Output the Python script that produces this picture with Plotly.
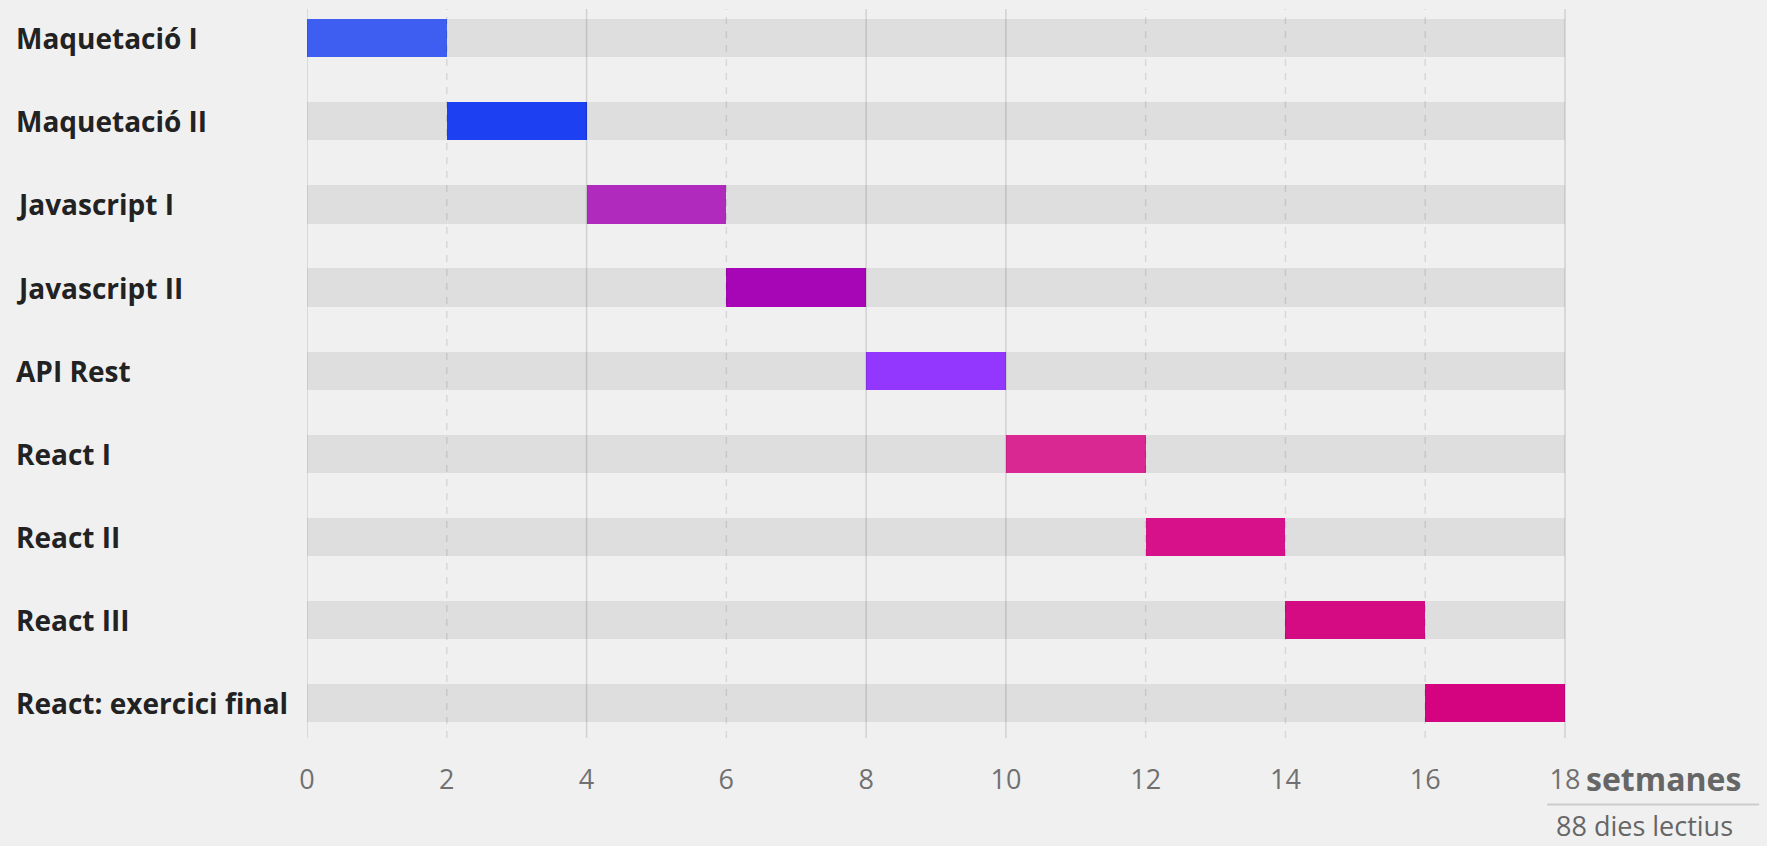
import plotly.graph_objects as go

modules = ["Maquetació I", "Maquetació II", "Javascript I", "Javascript II", "API Rest",
           "React I", "React II", "React III", "React: exercici final"]
starts = [0, 2, 4, 6, 8, 10, 12, 14, 16]
durations = [2, 2, 2, 2, 2, 2, 2, 2, 2]
total_weeks = 18
colors = ["#3d5ef0", "#1c40f2", "#b02abe", "#a606b5", "#9437fe",
          "#d92891", "#d6118a", "#d40b82", "#d4037f"]
tick_vals = [0, 2, 4, 6, 8, 10, 12, 14, 16, 18]
solid_grid = [0, 4, 8, 10, 18]
dashed_grid = [2, 6, 12, 14, 16]
unit_label = "setmanes"
days_label = "88 dies lectius"

W, H = 1767, 846
ML, MT = 306.6, 9
unit_px = 69.9
x_max = 18.1
plot_w = unit_px * x_max
MR = W - ML - plot_w
plot_bottom = 738.4
MB = H - plot_bottom
plot_h = H - MT - MB


def py(y):
    return (plot_bottom - y) / plot_h


def px(x):
    return (x - ML) / plot_w


fig = go.Figure()
fig.add_trace(go.Bar(
    y=modules, x=[total_weeks] * len(modules), base=[0] * len(modules),
    orientation="h", marker=dict(color="#dedede", line=dict(width=0)),
    width=0.46, hoverinfo="skip", showlegend=False))
fig.add_trace(go.Bar(
    y=modules, x=durations, base=starts, orientation="h",
    marker=dict(color=colors, line=dict(width=0)),
    width=0.46, showlegend=False))

shapes = []
for v in solid_grid:
    shapes.append(dict(type="line", xref="x", yref="paper", x0=v, x1=v, y0=0, y1=1,
                       line=dict(color="rgba(0,0,0,0.13)", width=1.5), layer="above"))
for v in dashed_grid:
    shapes.append(dict(type="line", xref="x", yref="paper", x0=v, x1=v, y0=0, y1=1,
                       line=dict(color="rgba(0,0,0,0.10)", width=1.5, dash="7px,7px"),
                       layer="above"))
shapes.append(dict(type="line", xref="paper", yref="paper",
                   x0=px(1547), x1=px(1759), y0=py(805), y1=py(805),
                   line=dict(color="#cccccc", width=2)))

annotations = []
for m in modules:
    annotations.append(dict(x=0, xref="paper", xshift=-(ML - 14), xanchor="left",
                            y=m, yref="y", text=f"<b>{m}</b>", showarrow=False,
                            font=dict(family="Open Sans", size=28, color="#222222")))
annotations.append(dict(x=18, xref="x", xshift=19, xanchor="left",
                        y=py(779), yref="paper", yanchor="middle",
                        text=f"<b>{unit_label}</b>", showarrow=False,
                        font=dict(family="Open Sans", size=32, color="#666666")))
annotations.append(dict(x=px(1644), xref="paper", xanchor="center",
                        y=py(826), yref="paper", yanchor="middle",
                        text=days_label, showarrow=False,
                        font=dict(family="Open Sans", size=27, color="#666666")))

fig.update_layout(
    width=W, height=H,
    margin=dict(l=ML, r=MR, t=MT, b=MB),
    paper_bgcolor="#f0f0f0", plot_bgcolor="#f0f0f0",
    barmode="overlay", bargap=0,
    xaxis=dict(range=[0, x_max], tickvals=tick_vals, ticktext=[str(v) for v in tick_vals],
               showgrid=False, zeroline=False, showline=False,
               tickfont=dict(family="Open Sans", size=27, color="#707070"),
               ticklabelstandoff=23, fixedrange=True),
    yaxis=dict(categoryorder="array", categoryarray=modules,
               range=[8.42, -0.352], showticklabels=False, showgrid=False,
               zeroline=False, showline=False, fixedrange=True),
    shapes=shapes, annotations=annotations,
)
fig.write_html("out.html", config={"displayModeBar": False},
               post_script="document.body.style.margin='0';document.body.style.background='#f0f0f0';")
